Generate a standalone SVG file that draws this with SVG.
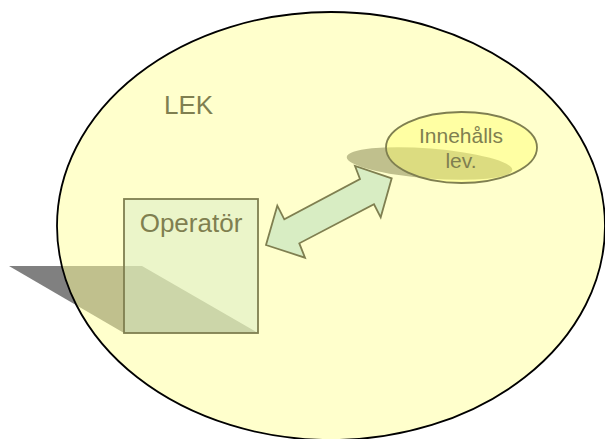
<svg xmlns="http://www.w3.org/2000/svg" width="605" height="439" viewBox="0 0 605 439">
<style>
.shadow{fill:#808080;stroke:none}
.lbl{font-family:"Liberation Sans",Arial,sans-serif;fill:#7F7F50}
.olive{stroke:#7F7F50;stroke-width:1.8}
</style>
<rect width="605" height="439" fill="#ffffff"/>
<g id="shadows">
<polygon class="shadow" points="9,266 142,266 258,333 124,333"/>
<ellipse class="shadow" cx="429.5" cy="163.5" rx="83" ry="15" transform="rotate(4.5 429.5 163.5)"/>
</g>
<g id="lek">
<ellipse cx="331" cy="226" rx="274" ry="214" fill="#FFFF99" fill-opacity="0.5" stroke="#000000" stroke-width="1.8"/>
<text class="lbl" x="164" y="114" font-size="26">LEK</text>
</g>
<g id="operator">
<rect class="olive" x="124" y="199" width="134" height="134" fill="#D7EBC6" fill-opacity="0.5"/>
<text class="lbl" x="191" y="232" font-size="26" text-anchor="middle">Operatör</text>
</g>
<g id="innehalls">
<ellipse class="olive" cx="461.5" cy="147.5" rx="75.5" ry="35.5" fill="#FFFF70" fill-opacity="0.45"/>
<text class="lbl" x="461" y="143" font-size="21" text-anchor="middle">Innehålls</text>
<text class="lbl" x="461" y="168" font-size="21" text-anchor="middle">lev.</text>
</g>
<g id="connectors">
<polygon class="olive" fill="#D8EDC3" stroke-linejoin="miter" points="266,245 277.3,205.7 284.3,219.3 360,179 355,166 391.7,178.3 380.7,217.3 374,204.3 299.3,243.3 305,257.7"/>
</g>
</svg>
